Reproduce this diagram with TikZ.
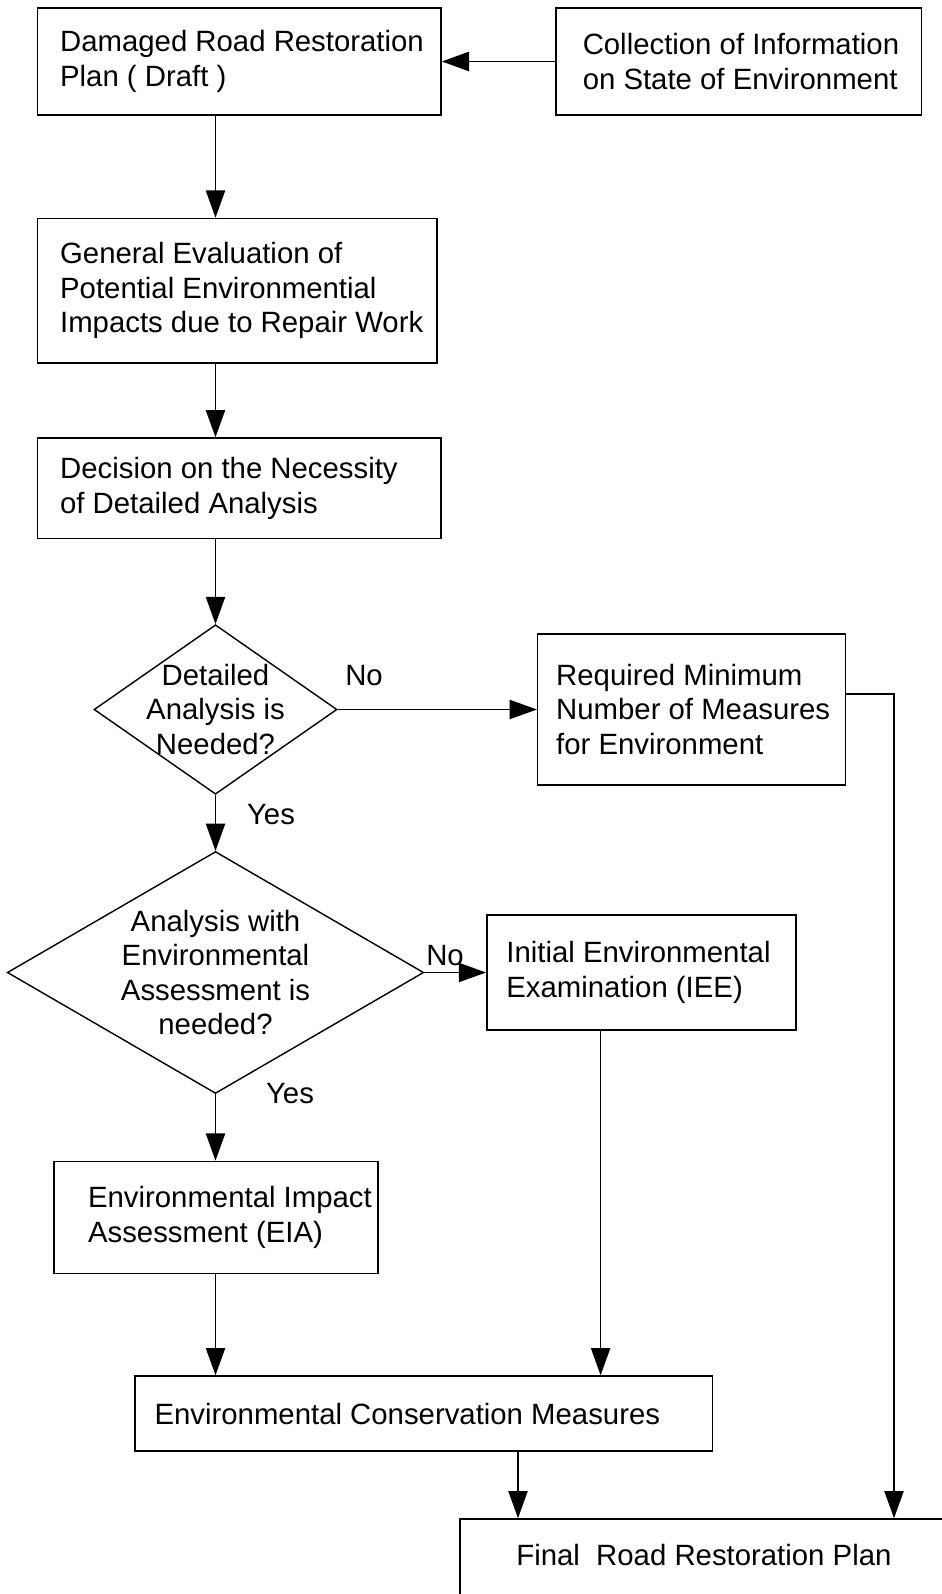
\documentclass[tikz,border=0pt]{standalone}
\usepackage{fontspec}
\setmainfont{Liberation Sans}
\usetikzlibrary{shapes.geometric,arrows.meta,positioning}

\begin{document}
\begin{tikzpicture}[x=0.02cm, y=-0.02cm,
    every node/.style={font=\fontsize{16.7pt}{19.6pt}\selectfont},
    box/.style={draw, line width=0.9pt, rectangle, inner sep=0pt},
    decision/.style={draw, line width=0.8pt, diamond, inner sep=0pt},
    txt/.style={inner sep=0pt, align=left},
    arr/.style={line width=0.7pt, -{Triangle[length=15.5pt, width=11pt]}}]
    \useasboundingbox (0,0) rectangle (942,1594);
    \clip (0,0) rectangle (942,1594);

    \coordinate (col) at (215.5,0);
    \coordinate (bend) at (894,694);
    \coordinate (ieedrop) at (600.6,0);
    \coordinate (cdrop) at (518,0);

    \node[box, minimum width=8.07cm, minimum height=2.13cm] (plan) at (239.3,61.5) {};
    \node[txt, right=0.46cm of plan.west] (plantxt) {Damaged Road Restoration\\Plan ( Draft )};
    \node[box, minimum width=7.31cm, minimum height=2.14cm] (coll) at (738.9,61.5) {};
    \node[txt, right=0.54cm of coll.west] (colltxt) {Collection of Information\\on State of Environment};
    \node[box, minimum width=7.99cm, minimum height=2.89cm] (gen) at (237.3,290.7) {};
    \node[txt, right=0.46cm of gen.west] (gentxt) {General Evaluation of\\Potential Environmential\\Impacts due to Repair Work};
    \node[box, minimum width=8.07cm, minimum height=2.01cm] (dec) at (239.3,488.3) {};
    \node[txt, right=0.46cm of dec.west] (dectxt) {Decision on the Necessity\\of Detailed Analysis};

    \node[decision, minimum width=4.86cm, minimum height=3.39cm] (q1) at (215.5,709.5) {};
    \node[txt, align=center] (q1txt) at (q1) {Detailed\\Analysis is\\Needed?};
    \node[box, minimum width=6.16cm, minimum height=3.01cm] (req) at (691.6,709.5) {};
    \node[txt, right=0.38cm of req.west] (reqtxt) {Required Minimum\\Number of Measures\\for Environment};

    \node[decision, minimum width=8.33cm, minimum height=4.84cm] (q2) at (215.5,972.5) {};
    \node[txt, align=center] (q2txt) at (q2) {Analysis with\\Environmental\\Assessment is\\needed?};
    \node[box, minimum width=6.18cm, minimum height=2.30cm] (iee) at (641.3,972.5) {};
    \node[txt, right=0.40cm of iee.west] (ieetxt) {Initial Environmental\\Examination (IEE)};

    \node[box, minimum width=6.48cm, minimum height=2.24cm] (eia) at (216,1217.4) {};
    \node[txt, right=0.69cm of eia.west] (eiatxt) {Environmental Impact\\Assessment (EIA)};
    \node[box, minimum width=11.55cm, minimum height=1.5cm] (cons) at (423.7,1413.5) {};
    \node[txt, right=0.40cm of cons.west] (constxt) {Environmental Conservation Measures};
    \node[box, minimum width=10.8cm, minimum height=3.22cm] (fin) at (730,1599.5) {};
    \node[txt, anchor=west] (fintxt) at (516,1555) {Final\ \ Road Restoration Plan};

    \node[txt] (no1) at (364,676) {No};
    \node[txt] (yes1) at (271,815) {Yes};
    \node[txt] (no2) at (445,956) {No};
    \node[txt] (yes2) at (290,1094) {Yes};

    \draw[arr] (coll) -- (plan);
    \draw[arr] (plan.south -| col) -- (gen.north -| col);
    \draw[arr] (gen.south -| col) -- (dec.north -| col);
    \draw[arr] (dec.south -| col) -- (q1.north);
    \draw[arr] (q1.east) -- (req.west);
    \draw[arr] (q1.south) -- (q2.north);
    \draw[arr] (q2.east) -- (iee.west);
    \draw[arr] (q2.south) -- (eia.north -| col);
    \draw[arr] (eia.south -| col) -- (cons.north -| col);
    \draw[arr] (iee.south -| ieedrop) -- (cons.north -| ieedrop);
    \draw[arr] (req.east |- bend) -- (bend) -- (bend |- fin.north);
    \draw[arr] (cons.south -| cdrop) -- (fin.north -| cdrop);
\end{tikzpicture}
\end{document}
